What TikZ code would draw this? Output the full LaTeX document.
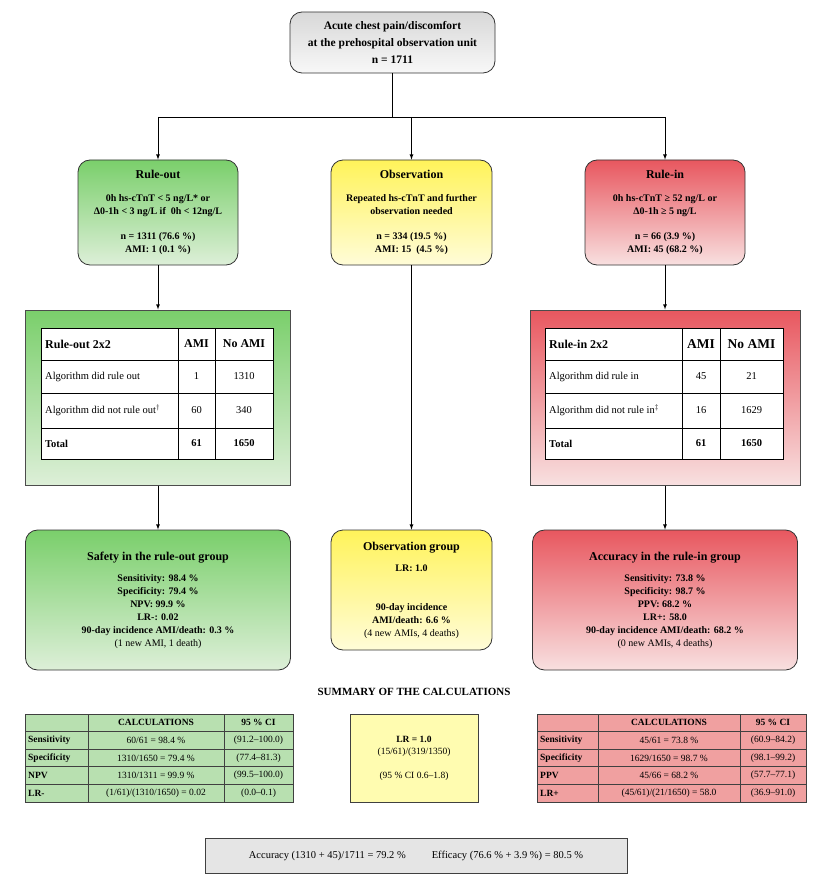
\documentclass[tikz,border=0pt]{standalone}
\usepackage{fontspec}
\setmainfont{Liberation Serif}
\begin{document}
\begin{tikzpicture}[x=1pt,y=-1pt,
 box/.style={draw=black!80,line width=0.8pt,rounded corners=12pt,align=center,inner sep=2pt,font=\fontsize{10}{13}\selectfont\bfseries},
 sq/.style={draw=black!70,line width=1pt,inner sep=0pt},
 arr/.style={-latex,line width=0.8pt},
 cell/.style={font=\fontsize{10.5}{12}\selectfont,inner sep=1pt},
 hcell/.style={font=\fontsize{12}{14}\selectfont\bfseries,inner sep=1pt},
 tcell/.style={font=\fontsize{10.5}{12}\selectfont\bfseries,inner sep=1pt},
 scell/.style={font=\fontsize{9.5}{11}\selectfont,inner sep=1pt},
 sbcell/.style={font=\fontsize{9.5}{11}\selectfont\bfseries,inner sep=1pt}]
\definecolor{gt}{HTML}{7ACF6B}\definecolor{gb}{HTML}{DDEFD8}
\definecolor{rt}{HTML}{E8575F}\definecolor{rb}{HTML}{F8E0E0}
\definecolor{yt}{HTML}{FFF35A}\definecolor{yb}{HTML}{FFFCD8}
\definecolor{ht}{HTML}{D8D8D8}\definecolor{hb}{HTML}{F8F8F8}
\definecolor{gs}{HTML}{B8E0B0}\definecolor{rs}{HTML}{F0A0A0}\definecolor{ys}{HTML}{FFFCB0}
\useasboundingbox (0,0) rectangle (828,877);
% top
\node[box,font=\fontsize{11.5}{17}\selectfont\bfseries,top color=ht,bottom color=hb,minimum width=205,minimum height=61] (top) at (392.5,42.5)
 {Acute chest pain/discomfort\\at the prehospital observation unit\\n = 1711};
% level 2
\node[box,top color=gt,bottom color=gb,minimum width=160,minimum height=105] (ro) at (158,212.5)
 {{\fontsize{12}{14}\selectfont Rule-out}\\[10pt]0h hs-cTnT < 5 ng/L* or\\Δ0-1h < 3 ng/L if\ \ 0h < 12ng/L\\[12pt]n = 1311 (76.6 \%)\\AMI: 1 (0.1 \%)};
\node[box,top color=yt,bottom color=yb,minimum width=161,minimum height=105] (ob) at (411.5,212.5)
 {{\fontsize{12}{14}\selectfont Observation}\\[10pt]Repeated hs-cTnT and further\\observation needed\\[12pt]n = 334 (19.5 \%)\\AMI: 15\ \ (4.5 \%)};
\node[box,top color=rt,bottom color=rb,minimum width=160,minimum height=105] (ri) at (665,212.5)
 {{\fontsize{12}{14}\selectfont Rule-in}\\[10pt]0h hs-cTnT ≥ 52 ng/L or\\Δ0-1h ≥ 5 ng/L\\[12pt]n = 66 (3.9 \%)\\AMI: 45 (68.2 \%)};
\coordinate (j) at (392.5,117);
\coordinate (jl) at (158,117);
\coordinate (jm) at (411.5,117);
\coordinate (jr) at (665,117);
\draw[line width=0.8pt] (top.south) -- (j);
\draw[line width=0.8pt] (jl) -- (jr);
\draw[arr] (jl) -- (ro.north);
\draw[arr] (jm) -- (ob.north);
\draw[arr] (jr) -- (ri.north);
% 2x2 boxes
\node[sq,top color=gt,bottom color=gb,minimum width=265,minimum height=175] (tl) at (158,397.5) {};
\node[sq,top color=rt,bottom color=rb,minimum width=270,minimum height=175] (tr) at (665,397.5) {};
\draw[arr] (ro.south) -- (tl.north);
\draw[arr] (ri.south) -- (tr.north);
% left table
\fill[white] (41,328) rectangle (273,459);
\draw[line width=0.9pt] (41,328) rectangle (273,459);
\foreach \y in {360,393,428} \draw[line width=0.9pt] (41,\y) -- (273,\y);
\foreach \x in {178,215} \draw[line width=0.9pt] (\x,328) -- (\x,459);
\node[hcell,anchor=west] (l11) at (44,344) {Rule-out 2x2};
\node[hcell] (l12) at (196.5,344) {AMI};
\node[hcell] (l13) at (244,344) {No AMI};
\node[cell,anchor=west] (l21) at (44,376.5) {Algorithm did rule out};
\node[cell] (l22) at (196.5,376.5) {1};
\node[cell] (l23) at (244,376.5) {1310};
\node[cell,anchor=west] (l31) at (44,410.5) {Algorithm did not rule out$^{\dagger}$};
\node[cell] (l32) at (196.5,410.5) {60};
\node[cell] (l33) at (244,410.5) {340};
\node[tcell,anchor=west] (l41) at (44,443.5) {Total};
\node[tcell] (l42) at (196.5,443.5) {61};
\node[tcell] (l43) at (244,443.5) {1650};
% right table
\fill[white] (545,328) rectangle (783,459);
\draw[line width=0.9pt] (545,328) rectangle (783,459);
\foreach \y in {360,393,428} \draw[line width=0.9pt] (545,\y) -- (783,\y);
\foreach \x in {682,720} \draw[line width=0.9pt] (\x,328) -- (\x,459);
\node[hcell,anchor=west] (r11) at (548,344) {Rule-in 2x2};
\node[hcell,font=\fontsize{13.5}{15}\selectfont\bfseries] (r12) at (701,344) {AMI};
\node[hcell,font=\fontsize{13.5}{15}\selectfont\bfseries] (r13) at (751.5,344) {No AMI};
\node[cell,anchor=west] (r21) at (548,376.5) {Algorithm did rule in};
\node[cell] (r22) at (701,376.5) {45};
\node[cell] (r23) at (751.5,376.5) {21};
\node[cell,anchor=west] (r31) at (548,410.5) {Algorithm did not rule in$^{\ddagger}$};
\node[cell] (r32) at (701,410.5) {16};
\node[cell] (r33) at (751.5,410.5) {1629};
\node[tcell,anchor=west] (r41) at (548,443.5) {Total};
\node[tcell] (r42) at (701,443.5) {61};
\node[tcell] (r43) at (751.5,443.5) {1650};
% bottom boxes
\node[box,top color=gt,bottom color=gb,minimum width=265,minimum height=140] (sl) at (158,600)
 {{\fontsize{12}{14}\selectfont Safety in the rule-out group}\\[8pt]Sensitivity: 98.4 \%\\Specificity: 79.4 \%\\NPV: 99.9 \%\\LR-: 0.02\\90-day incidence AMI/death: 0.3 \%\\\mdseries(1 new AMI, 1 death)};
\node[box,top color=yt,bottom color=yb,minimum width=161,minimum height=120] (sm) at (411.5,590)
 {{\fontsize{12}{14}\selectfont Observation group}\\[8pt]LR: 1.0\\[26pt]90-day incidence\\AMI/death: 6.6 \%\\\mdseries(4 new AMIs, 4 deaths)};
\node[box,top color=rt,bottom color=rb,minimum width=265,minimum height=140] (sr) at (665,600)
 {{\fontsize{12}{14}\selectfont Accuracy in the rule-in group}\\[8pt]Sensitivity: 73.8 \%\\Specificity: 98.7 \%\\PPV: 68.2 \%\\LR+: 58.0\\90-day incidence AMI/death: 68.2 \%\\\mdseries(0 new AMIs, 4 deaths)};
\draw[arr] (tl.south) -- (sl.north);
\draw[arr] (tr.south) -- (sr.north);
\draw[arr] (ob.south) -- (sm.north);
% summary
\node[font=\fontsize{11}{13}\selectfont\bfseries] (sum) at (414,692) {SUMMARY OF THE CALCULATIONS};
% left summary table
\fill[gs] (25,714) rectangle (293,802);
\draw[line width=0.9pt,black!75] (25,714) rectangle (293,802);
\foreach \y in {731.6,749.2,766.8,784.4} \draw[line width=0.7pt,black!75] (25,\y) -- (293,\y);
\foreach \x in {88,224} \draw[line width=0.7pt,black!75] (\x,714) -- (\x,802);
\node[sbcell] (a12) at (156,722.8) {CALCULATIONS};
\node[sbcell] (a13) at (258.5,722.8) {95 \% CI};
\node[sbcell,anchor=west] (a21) at (27,740.4) {Sensitivity};
\node[scell] (a22) at (156,740.4) {60/61 = 98.4 \%};
\node[scell] (a23) at (258.5,740.4) {(91.2–100.0)};
\node[sbcell,anchor=west] (a31) at (27,758) {Specificity};
\node[scell] (a32) at (156,758) {1310/1650 = 79.4 \%};
\node[scell] (a33) at (258.5,758) {(77.4–81.3)};
\node[sbcell,anchor=west] (a41) at (27,775.6) {NPV};
\node[scell] (a42) at (156,775.6) {1310/1311 = 99.9 \%};
\node[scell] (a43) at (258.5,775.6) {(99.5–100.0)};
\node[sbcell,anchor=west] (a51) at (27,793.2) {LR-};
\node[scell] (a52) at (156,793.2) {(1/61)/(1310/1650) = 0.02};
\node[scell] (a53) at (258.5,793.2) {(0.0–0.1)};
% middle summary
\node[draw=black!75,line width=0.9pt,fill=ys,minimum width=128,minimum height=88,align=center,font=\fontsize{9.5}{12}\selectfont] (ms) at (414,758)
 {\textbf{LR = 1.0}\\(15/61)/(319/1350)\\[12pt](95 \% CI 0.6–1.8)};
% right summary table
\fill[rs] (537,714) rectangle (806,802);
\draw[line width=0.9pt,black!75] (537,714) rectangle (806,802);
\foreach \y in {731.6,749.2,766.8,784.4} \draw[line width=0.7pt,black!75] (537,\y) -- (806,\y);
\foreach \x in {598,740} \draw[line width=0.7pt,black!75] (\x,714) -- (\x,802);
\node[sbcell] (b12) at (669,722.8) {CALCULATIONS};
\node[sbcell] (b13) at (773,722.8) {95 \% CI};
\node[sbcell,anchor=west] (b21) at (539,740.4) {Sensitivity};
\node[scell] (b22) at (669,740.4) {45/61 = 73.8 \%};
\node[scell] (b23) at (773,740.4) {(60.9–84.2)};
\node[sbcell,anchor=west] (b31) at (539,758) {Specificity};
\node[scell] (b32) at (669,758) {1629/1650 = 98.7 \%};
\node[scell] (b33) at (773,758) {(98.1–99.2)};
\node[sbcell,anchor=west] (b41) at (539,775.6) {PPV};
\node[scell] (b42) at (669,775.6) {45/66 = 68.2 \%};
\node[scell] (b43) at (773,775.6) {(57.7–77.1)};
\node[sbcell,anchor=west] (b51) at (539,793.2) {LR+};
\node[scell] (b52) at (669,793.2) {(45/61)/(21/1650) = 58.0};
\node[scell] (b53) at (773,793.2) {(36.9–91.0)};
% bottom
\node[draw=black!75,line width=0.9pt,fill=black!10,minimum width=422,minimum height=35,font=\fontsize{10.5}{12}\selectfont] (acc) at (416,855.5)
 {Accuracy (1310 + 45)/1711 = 79.2 \%\hspace{26pt}Efficacy (76.6 \% + 3.9 \%) = 80.5 \%};
\end{tikzpicture}
\end{document}
